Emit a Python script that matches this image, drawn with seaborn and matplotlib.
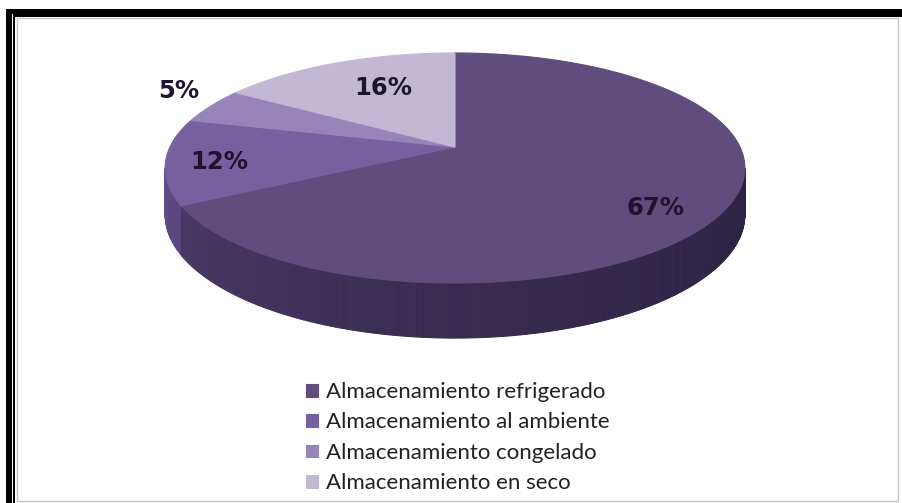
import numpy as np
import matplotlib
matplotlib.use("Agg")
import matplotlib.pyplot as plt
import matplotlib.transforms as mtransforms
from matplotlib.path import Path
from matplotlib.collections import PolyCollection
from matplotlib.patches import Rectangle
import matplotlib.colors as mcolors
import seaborn as sns

# ---- data -------------------------------------------------------------
categories = ["Almacenamiento refrigerado", "Almacenamiento al ambiente",
              "Almacenamiento congelado", "Almacenamiento en seco"]
shares = [67, 12, 5, 16]

# ---- style ------------------------------------------------------------
slice_colors = ["#614c7e", "#7760a0", "#9784b8", "#c2b8d4"]
label_xy = [(656, 208), (219, 162), (179, 91), (383, 88)]   # pixel anchors of % labels

W, H = 902, 503
sns.set_theme(style="white")
plt.rcParams["font.family"] = ["DejaVu Sans"]

fig = plt.figure(figsize=(W / 100, H / 100), dpi=100)
ax = fig.add_axes([0, 0, 1, 1])


class TiltedDisc(mtransforms.Transform):
    """Project the unit disc (u, v) onto a tilted plane seen in perspective."""
    input_dims = output_dims = 2
    is_separable = False
    has_inverse = False

    def __init__(self, cx, cy, rx, ry, k):
        super().__init__()
        self.cx, self.cy, self.rx, self.ry, self.k = cx, cy, rx, ry, k

    def scale(self, v):
        return 1.0 / (1.0 + self.k * np.asarray(v, dtype=float))

    def transform_non_affine(self, values):
        values = np.asarray(values, dtype=float).reshape(-1, 2)
        u, v = values[:, 0], values[:, 1]
        s = self.scale(v)
        return np.column_stack([self.cx + self.rx * u * s, self.cy - self.ry * v * s])

    def transform_path_non_affine(self, path):
        # flatten the Bezier arcs first so the projection bends them correctly
        verts, codes = [], []
        t = np.linspace(0, 1, 33)[1:]
        for seg, code in path.iter_bezier():
            if code == Path.MOVETO:
                verts.append(np.atleast_2d(seg.control_points))
                codes.append(Path.MOVETO)
            else:
                pts = np.atleast_2d(seg(t))
                verts.append(pts)
                codes.extend([Path.LINETO] * len(pts))
        verts = np.vstack(verts)
        return Path(self.transform_non_affine(verts), codes)


disc = TiltedDisc(455, 147, 285, 111.2, 0.1826)
side_depth = 45

wedges, _ = ax.pie(shares, colors=slice_colors, startangle=90, counterclock=False,
                   wedgeprops=dict(linewidth=0.8))
for w in wedges:
    w.set_edgecolor(w.get_facecolor())
    w.set_transform(disc + ax.transData)
    w.set_zorder(3)

ax.set_xlim(0, W)
ax.set_ylim(H, 0)
ax.set_aspect("auto")
ax.axis("off")


# ---- visible rim of the disc, shaded from left to right ----------------
def wedge_at(theta):
    for w in wedges:
        if (theta - w.theta1) % 360 <= (w.theta2 - w.theta1):
            return w
    return wedges[0]


edge = np.degrees(np.arcsin(disc.k))
thetas = np.linspace(180 + edge, 360 - edge, 321)
rad = np.radians(thetas)
top = disc.transform_non_affine(np.column_stack([np.cos(rad), np.sin(rad)]))
drop = side_depth * disc.scale(np.sin(rad))
bottom = top + np.column_stack([np.zeros_like(drop), drop])

quads, cols = [], []
for i in range(len(thetas) - 1):
    mid = 0.5 * (thetas[i] + thetas[i + 1])
    base = np.array(mcolors.to_rgb(wedge_at(mid).get_facecolor()))
    f = np.interp(mid, [190, 270, 350], [0.80, 0.57, 0.45])
    rgb = np.clip(base * f + np.array([0.0, 0.0, 0.03]), 0, 1)
    quads.append([top[i], top[i + 1], bottom[i + 1], bottom[i]])
    cols.append(rgb)
ax.add_collection(PolyCollection(quads, facecolors=cols, edgecolors=cols,
                                 linewidths=0.7, zorder=2))

# ---- percentage labels ------------------------------------------------
for v, (x, y) in zip(shares, label_xy):
    ax.text(x, y, f"{v}%", ha="center", va="center", fontsize=17.5,
            fontweight="bold", color="#1d1430", zorder=5)

# ---- legend -------------------------------------------------------------
leg = ax.legend(wedges, categories, loc="upper left", bbox_to_anchor=(306, 382),
                bbox_transform=ax.transData, frameon=False,
                prop={"family": "Lato", "size": 16},
                handlelength=0.52, handleheight=0.52, handletextpad=0.38,
                labelspacing=0.47, borderpad=0, borderaxespad=0)
for txt in leg.get_texts():
    txt.set_color("#222222")

# ---- frames ---------------------------------------------------------------
for (x, y, w, h) in [(6, 9, W - 6, 4.5), (6, 9, 5.5, H - 9),
                     (12.5, 14, W - 12.5, 2.5), (12.5, 14, 2.5, H - 14)]:
    ax.add_patch(Rectangle((x, y), w, h, facecolor="black", edgecolor="none",
                           zorder=6, clip_on=False))
ax.add_patch(Rectangle((16.5, 17.5), 881.5, 483.5, fill=False, edgecolor="#c4c4c4",
                       linewidth=1, zorder=6, clip_on=False))

fig.savefig("out.png", dpi=100, facecolor="white")
